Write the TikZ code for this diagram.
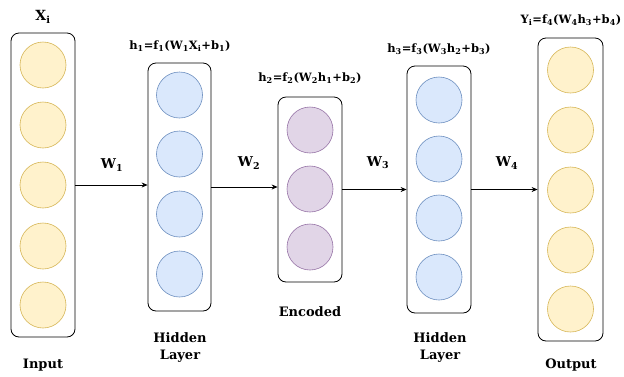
\documentclass[tikz,border=0pt]{standalone}
\usepackage{fontspec}
\setmainfont{DejaVu Serif}
\usetikzlibrary{arrows.meta}
\definecolor{yfill}{HTML}{FFF2CC}\definecolor{ydraw}{HTML}{D6B656}
\definecolor{bfill}{HTML}{DAE8FC}\definecolor{bdraw}{HTML}{6C8EBF}
\definecolor{pfill}{HTML}{E1D5E7}\definecolor{pdraw}{HTML}{9673A6}
\newcommand{\sbs}[1]{\textsubscript{#1}}
\begin{document}
\begin{tikzpicture}[x=1pt,y=-1pt,
  layerbox/.style={draw=black,line width=0.8pt,rounded corners=8pt,fill=white,inner sep=0pt},
  neuron/.style={circle,line width=0.6pt,minimum size=46pt,inner sep=0pt},
  yel/.style={neuron,fill=yfill,draw=ydraw},
  blu/.style={neuron,fill=bfill,draw=bdraw},
  pur/.style={neuron,fill=pfill,draw=pdraw},
  lbl/.style={font=\bfseries\fontsize{13}{17}\selectfont,align=center,inner sep=0pt},
  wl/.style={font=\bfseries\fontsize{13.5}{16}\selectfont,inner sep=0pt},
  eq/.style={font=\bfseries\fontsize{11.5}{13}\selectfont,inner sep=0pt},
  conn/.style={line width=0.7pt,-{Stealth[length=6pt,width=5pt]}}]
\useasboundingbox (0,0) rectangle (624,376);
% boxes
\node[layerbox,minimum width=64pt,minimum height=304pt] (in) at (43,185) {};
\node[layerbox,minimum width=63pt,minimum height=248pt] (h1) at (179.5,187) {};
\node[layerbox,minimum width=64pt,minimum height=185pt] (enc) at (310,189.5) {};
\node[layerbox,minimum width=64pt,minimum height=247pt] (h3) at (439,189.5) {};
\node[layerbox,minimum width=65pt,minimum height=303pt] (out) at (570.5,189.5) {};
% neurons
\foreach \y [count=\i] in {65,125,185,246,305} \node[yel] (i\i) at (43,\y) {};
\foreach \y [count=\i] in {95,154,214,274} \node[blu] (a\i) at (179.5,\y) {};
\foreach \y [count=\i] in {130,189,247} \node[pur] (e\i) at (310,\y) {};
\foreach \y [count=\i] in {100,159,218,277} \node[blu] (c\i) at (439,\y) {};
\foreach \y [count=\i] in {70,130,190,250,309} \node[yel] (o\i) at (570.5,\y) {};
% equations
\node[eq,font=\bfseries\fontsize{14}{16}\selectfont] (xi) at (43,17) {X\sbs{i}};
\node[eq] (eq1) at (180,46) {h\sbs{1}=f\sbs{1}(W\sbs{1}X\sbs{i}+b\sbs{1})};
\node[eq] (eq2) at (310,78) {h\sbs{2}=f\sbs{2}(W\sbs{2}h\sbs{1}+b\sbs{2})};
\node[eq] (eq3) at (439,49) {h\sbs{3}=f\sbs{3}(W\sbs{3}h\sbs{2}+b\sbs{3})};
\node[eq] (eq4) at (571,20) {Y\sbs{i}=f\sbs{4}(W\sbs{4}h\sbs{3}+b\sbs{4})};
% arrows
\draw[conn] (in.east) -- (in.east -| h1.west);
\draw[conn] (h1.east) -- (h1.east -| enc.west);
\draw[conn] (enc.east) -- (enc.east -| h3.west);
\draw[conn] (h3.east) -- (h3.east -| out.west);
\node[wl] (w1) at (112,165) {W\sbs{1}};
\node[wl] (w2) at (249,163) {W\sbs{2}};
\node[wl] (w3) at (378,163) {W\sbs{3}};
\node[wl] (w4) at (507,163) {W\sbs{4}};
% bottom labels
\node[lbl] (lin) at (43,365) {Input};
\node[lbl] (lh1) at (180,347) {Hidden\\Layer};
\node[lbl] (lenc) at (310,312) {Encoded};
\node[lbl] (lh3) at (440,347) {Hidden\\Layer};
\node[lbl] (lout) at (571,365) {Output};
\end{tikzpicture}
\end{document}
